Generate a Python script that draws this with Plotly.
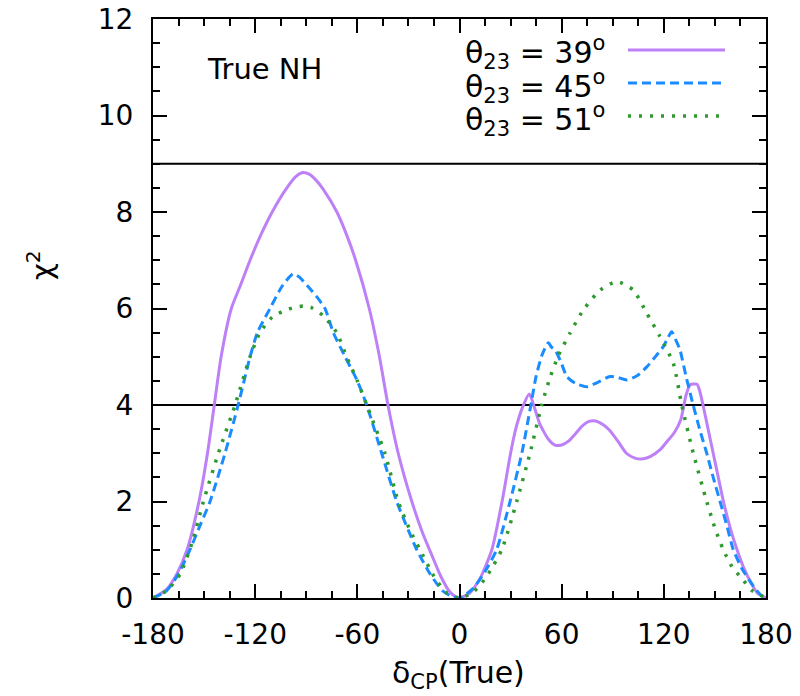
import plotly.graph_objects as go

# delta_CP (true) grid points and chi^2 values for each theta_23 case
delta_39 = [-180, -172, -166, -160, -153, -148, -144, -140, -134, -129, -123, -117,
            -110, -102, -96, -92, -88, -84, -80, -72, -66, -61, -53, -47, -42, -36,
            -28, -22, -17, -11, -6, -2, 0,
            6, 12, 19, 25, 30, 33, 37, 41, 44, 47, 52, 56, 60, 64, 68, 72, 76, 80,
            84, 88, 93, 98, 103, 107, 112, 118, 122, 126, 130, 133, 135.5, 139.5,
            141, 143, 146, 149, 152, 155, 159, 163, 167, 171, 175, 180]
chi2_39 = [0, 0.18, 0.5, 1.0, 2.0, 3.0, 4.0, 5.0, 6.0, 6.45, 7.0, 7.5,
           8.0, 8.47, 8.74, 8.82, 8.78, 8.65, 8.47, 8.0, 7.5, 7.0, 6.0, 5.0, 4.0, 3.0,
           2.0, 1.38, 0.95, 0.45, 0.14, 0.02, 0,
           0.1, 0.4, 1.0, 2.0, 3.0, 3.5, 3.95, 4.23, 3.95, 3.62, 3.3, 3.17, 3.17, 3.25, 3.4, 3.56, 3.66, 3.67,
           3.6, 3.48, 3.25, 3.0, 2.9, 2.88, 2.93, 3.08, 3.25, 3.42, 3.7, 4.2, 4.42, 4.43,
           4.3, 4.0, 3.5, 3.0, 2.5, 2.0, 1.45, 1.0, 0.62, 0.33, 0.1, 0]

delta_45 = [-180, -172, -165, -158.3, -152.4, -146.5, -137.7, -130, -123, -118.7, -111.3,
            -104.4, -100, -97.6, -94, -88.8, -84, -79, -74.1, -67.2, -60, -54.5, -45.7,
            -36.9, -30, -25.1, -17.3, -10, -5, 0,
            8, 15, 21.8, 29.7, 36.6, 41.9, 45, 48.3, 50.5, 52.2, 54, 56.2, 60, 63, 68,
            74.8, 80, 88.4, 93, 98.2, 104, 110, 115, 119.7, 122.5, 124.6, 127, 129.5,
            133, 137.3, 141, 145.2, 149, 153, 157, 160.8, 166, 172.5, 177, 180]
chi2_45 = [0, 0.15, 0.5, 1.0, 1.5, 2.0, 3.0, 4.0, 5.0, 5.5, 6.0,
           6.45, 6.65, 6.72, 6.65, 6.45, 6.25, 6.0, 5.5, 5.0, 4.5, 4.0, 3.0,
           2.0, 1.4, 1.0, 0.5, 0.15, 0.04, 0,
           0.2, 0.55, 1.0, 2.0, 3.0, 4.0, 4.6, 5.02, 5.2, 5.29, 5.2, 5.14, 4.85, 4.59, 4.45,
           4.38, 4.45, 4.59, 4.57, 4.52, 4.6, 4.79, 5.0, 5.21, 5.4, 5.52, 5.35, 5.14,
           4.6, 3.99, 3.5, 3.0, 2.5, 2.0, 1.5, 1.0, 0.6, 0.25, 0.06, 0]

delta_51 = [-180, -172, -164, -157, -150.4, -141.6, -131.8, -123, -117.2, -110, -102,
            -96, -91.7, -87, -80, -72.1, -66.3, -60, -54.5, -43.8, -36, -29, -23.2,
            -15, -8, 0,
            8, 16, 24.8, 33.6, 41.4, 48.3, 53, 58, 64.9, 72.7, 82.6, 92.4, 102.1, 110,
            117.7, 125.6, 130.5, 137.3, 145.2, 150, 154.9, 160, 166.6, 172, 180]
chi2_51 = [0, 0.15, 0.5, 1.15, 2.0, 3.0, 4.0, 5.0, 5.5, 5.82, 5.97,
           6.03, 6.05, 6.02, 5.85, 5.5, 5.0, 4.5, 4.0, 3.0, 2.0, 1.4, 1.0,
           0.45, 0.12, 0,
           0.12, 0.45, 1.0, 2.0, 3.0, 4.0, 4.55, 5.02, 5.49, 5.97, 6.38, 6.56, 6.38, 5.9,
           5.42, 4.86, 4.0, 3.0, 2.0, 1.45, 1.0, 0.65, 0.37, 0.15, 0]

series_labels = ["θ<sub>23</sub> = 39<sup>o</sup>",
                 "θ<sub>23</sub> = 45<sup>o</sup>",
                 "θ<sub>23</sub> = 51<sup>o</sup>"]
significance_levels = [4, 9]
x_ticks = [-180, -120, -60, 0, 60, 120, 180]
y_ticks = [0, 2, 4, 6, 8, 10, 12]

colors = ["#bd80f7", "#1a8cff", "#2e9a2e"]
dashes = ["solid", "9px,5px", "3px,8px"]
widths = [3, 3, 3.5]

W, H = 800, 696
L, R, T, B = 153, 34, 19, 98
FONT = "DejaVu Sans"


def px(x):
    return (x - L) / (W - L - R)


def py(y):
    return (H - B - y) / (H - T - B)


fig = go.Figure()
for xs, ys, c, d, w in zip([delta_39, delta_45, delta_51], [chi2_39, chi2_45, chi2_51],
                           colors, dashes, widths):
    fig.add_trace(go.Scatter(x=xs, y=ys, mode="lines",
                             line=dict(color=c, dash=d, width=w, shape="spline", smoothing=0.6),
                             showlegend=False))

for lvl in significance_levels:
    fig.add_hline(y=lvl, line=dict(color="black", width=1.8), layer="below")

# legend: labels on the left, line samples on the right
row_y = [50, 83, 116]
for lab, yy, c, d, w in zip(series_labels, row_y, colors, dashes, widths):
    fig.add_annotation(x=px(607), y=py(yy + 3), xref="paper", yref="paper",
                       text=lab, showarrow=False, xanchor="right", yanchor="middle",
                       font=dict(family=FONT, size=30, color="black"))
    fig.add_shape(type="line", xref="paper", yref="paper",
                  x0=px(628), x1=px(725), y0=py(yy), y1=py(yy),
                  line=dict(color=c, dash=d, width=w))

fig.add_annotation(x=px(205), y=py(69), xref="paper", yref="paper", text="True NH",
                   showarrow=False, xanchor="left", yanchor="middle",
                   font=dict(family=FONT, size=29, color="black"))

# axis titles
fig.add_annotation(x=px(458), y=py(674), xref="paper", yref="paper",
                   text="δ<sub>CP</sub>(True)", showarrow=False,
                   xanchor="center", yanchor="middle",
                   font=dict(family=FONT, size=30, color="black"))
fig.add_annotation(x=px(40), y=py(265), xref="paper", yref="paper",
                   text="χ<sup>2</sup>", showarrow=False, textangle=-90,
                   xanchor="center", yanchor="middle",
                   font=dict(family=FONT, size=29, color="black"))

axis_common = dict(showline=True, linecolor="black", linewidth=2, mirror="allticks",
                   ticks="inside", ticklen=14, tickwidth=2, tickcolor="black",
                   showgrid=False, zeroline=False,
                   tickfont=dict(family=FONT, size=28, color="black"))

fig.update_xaxes(range=[-180, 180], tickvals=x_ticks, ticktext=[str(v) for v in x_ticks],
                 minor=dict(dtick=15, ticklen=7, tickwidth=1.5, tickcolor="black", ticks="inside"),
                 ticklabelstandoff=10, **axis_common)
fig.update_yaxes(range=[0, 12], tickvals=y_ticks,
                 minor=dict(dtick=0.5, ticklen=7, tickwidth=1.5, tickcolor="black", ticks="inside"),
                 ticklabelstandoff=12, **axis_common)

fig.update_layout(width=W, height=H, margin=dict(l=L, r=R, t=T, b=B, autoexpand=False),
                  plot_bgcolor="white", paper_bgcolor="white", showlegend=False)

fig.write_html("out.html")
